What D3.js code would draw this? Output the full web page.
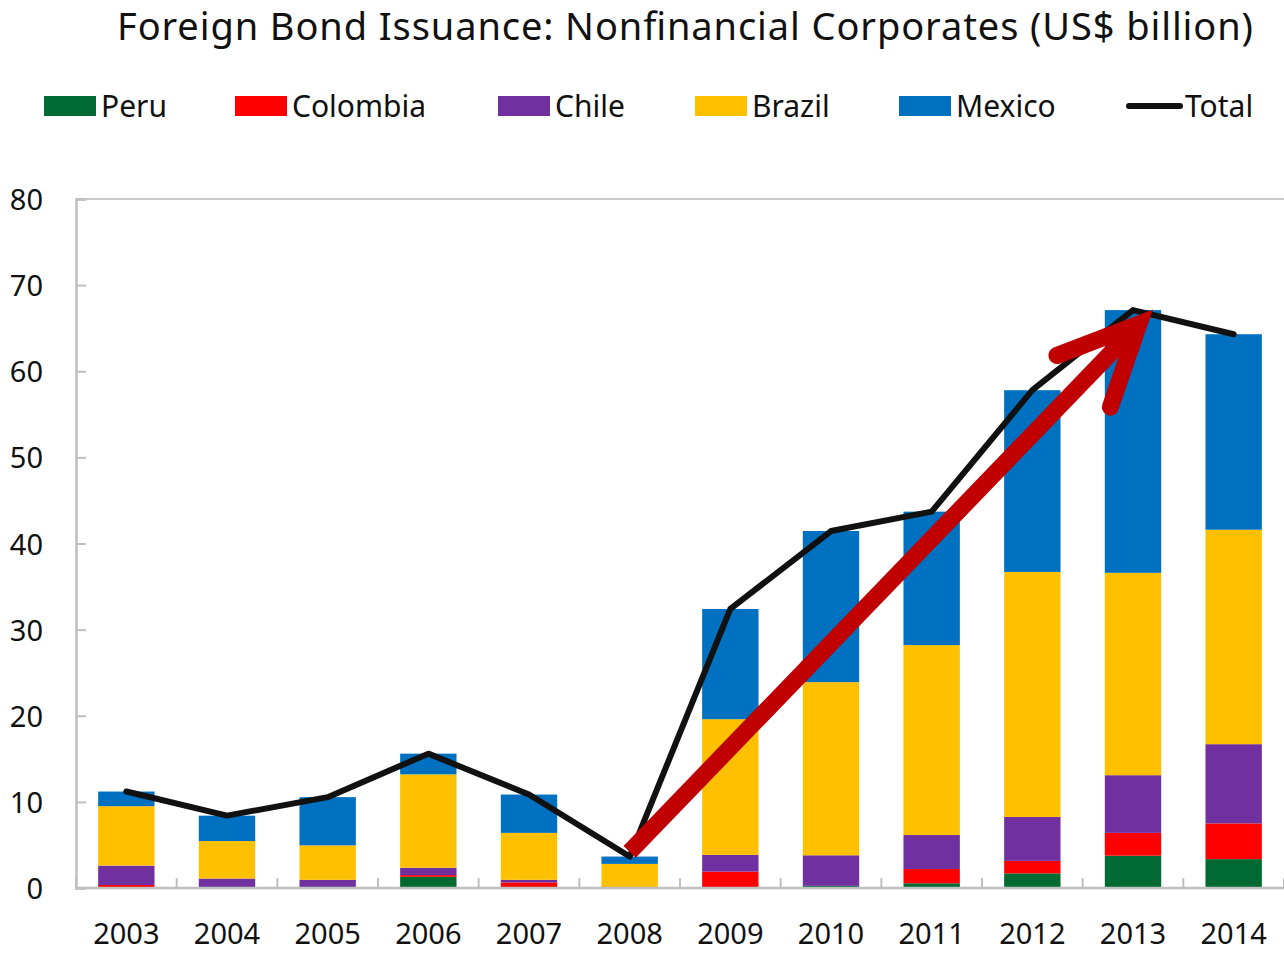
<!DOCTYPE html>
<html>
<head>
<meta charset="utf-8">
<script src="https://d3js.org/d3.v7.min.js"></script>
<style>
  body { margin: 0; background: #fff; }
  text { font-family: "Noto Sans", "Open Sans", sans-serif; fill: #111; }
</style>
</head>
<body>
<script>
// data (US$ billion)
var years    = ["2003","2004","2005","2006","2007","2008","2009","2010","2011","2012","2013","2014"];
var peru     = [0,    0,    0.1,  1.3,  0,    0,    0,    0.25, 0.55, 1.7,  3.75, 3.35];
var colombia = [0.35, 0.1,  0,    0.2,  0.65, 0,    1.9,  0,    1.65, 1.45, 2.65, 4.15];
var chile    = [2.25, 1.0,  0.85, 0.85, 0.3,  0,    1.95, 3.55, 3.95, 5.1,  6.7,  9.2];
var brazil   = [6.9,  4.35, 4.0,  10.85,5.45, 2.8,  15.75,20.1, 22.05,28.45,23.5, 24.9];
var mexico   = [1.7,  2.95, 5.6,  2.4,  4.45, 0.85, 12.8, 17.55,15.5, 21.1, 30.5, 22.7];
var yTicks   = [0,10,20,30,40,50,60,70,80];
var seriesNames = ["Peru","Colombia","Chile","Brazil","Mexico"];
var seriesColors = ["#006a32","#ff0000","#7030a0","#ffc000","#0070c0"];
// arrow annotation: from 2008 to 2013
var arrowFrom = ["2008", 4.2];
var arrowTo   = ["2013", 65.5];

var W = 1284, H = 953;
var svg = d3.select("body").append("svg").attr("width", W).attr("height", H);

var x = d3.scaleBand().domain(years).range([76, 1284]).paddingInner(0.44).paddingOuter(0.22);
var y = d3.scaleLinear().domain([0, 80]).range([888, 199]);

var table = years.map(function(yr, i) {
  return { year: yr, Peru: peru[i], Colombia: colombia[i], Chile: chile[i], Brazil: brazil[i], Mexico: mexico[i] };
});
var totals = table.map(function(d) {
  return { year: d.year, total: d.Peru + d.Colombia + d.Chile + d.Brazil + d.Mexico };
});
var stacked = d3.stack().keys(seriesNames)(table);

// title
svg.append("text").attr("x", 117).attr("y", 40)
  .attr("textLength", 1136).attr("lengthAdjust", "spacing")
  .style("font-size", "38px").text("Foreign Bond Issuance: Nonfinancial Corporates (US$ billion)");

// legend
var legendX = [44, 235, 498, 695, 899];
seriesNames.forEach(function(n, i) {
  svg.append("rect").attr("x", legendX[i]).attr("y", 96).attr("width", 52).attr("height", 20)
    .attr("fill", seriesColors[i]);
  svg.append("text").attr("x", legendX[i] + 57).attr("y", 117).style("font-size", "30px").text(n);
});
svg.append("line").attr("x1", 1129).attr("x2", 1180).attr("y1", 106).attr("y2", 106)
  .attr("stroke", "#111").attr("stroke-width", 6).attr("stroke-linecap", "round");
svg.append("text").attr("x", 1185).attr("y", 117).style("font-size", "30px").text("Total");

// plot frame: top line
svg.append("line").attr("x1", 76).attr("x2", 1284).attr("y1", y(80)).attr("y2", y(80))
  .attr("stroke", "#c8c8c8").attr("stroke-width", 2);

// bars
svg.append("g").selectAll("g").data(stacked).enter().append("g")
  .attr("fill", function(d, i) { return seriesColors[i]; })
  .selectAll("rect").data(function(d) { return d; }).enter().append("rect")
  .attr("x", function(d) { return x(d.data.year); })
  .attr("width", x.bandwidth())
  .attr("y", function(d) { return y(d[1]); })
  .attr("height", function(d) { return y(d[0]) - y(d[1]); });

// y axis
var yAxis = svg.append("g").attr("transform", "translate(76,0)")
  .call(d3.axisRight(y).tickValues(yTicks).tickSize(10).tickFormat(""));
yAxis.select(".domain").attr("stroke", "#bfbfbf").attr("stroke-width", 2.5);
yAxis.selectAll(".tick line").attr("stroke", "#bfbfbf").attr("stroke-width", 2);
svg.append("g").selectAll("text").data(yTicks).enter().append("text")
  .attr("x", 43).attr("y", function(d) { return y(d) + 11; })
  .attr("text-anchor", "end").style("font-size", "29px").text(function(d) { return d; });

// x axis with ticks between categories
var bounds = years.map(function(yr) { return x(yr) - x.step() * x.paddingInner() / 2; });
bounds.push(1284);
svg.append("line").attr("x1", 75).attr("x2", 1284).attr("y1", 888).attr("y2", 888)
  .attr("stroke", "#bfbfbf").attr("stroke-width", 2.5);
svg.append("g").selectAll("line").data(bounds).enter().append("line")
  .attr("x1", function(d) { return d; }).attr("x2", function(d) { return d; })
  .attr("y1", 888).attr("y2", 878).attr("stroke", "#bfbfbf").attr("stroke-width", 2);
svg.append("g").selectAll("text").data(years).enter().append("text")
  .attr("x", function(d) { return x(d) + x.bandwidth() / 2; }).attr("y", 944)
  .attr("text-anchor", "middle").style("font-size", "29px").text(function(d) { return d; });

// total line
var line = d3.line()
  .x(function(d) { return x(d.year) + x.bandwidth() / 2; })
  .y(function(d) { return y(d.total); });
svg.append("path").datum(totals).attr("d", line).attr("fill", "none")
  .attr("stroke", "#111").attr("stroke-width", 6)
  .attr("stroke-linejoin", "round").attr("stroke-linecap", "round");

// red arrow
var ax0 = x(arrowFrom[0]) + x.bandwidth() / 2, ay0 = y(arrowFrom[1]);
var ax1 = x(arrowTo[0]) + x.bandwidth() / 2 + 6, ay1 = y(arrowTo[1]);
var ang = Math.atan2(ay0 - ay1, ax0 - ax1);
var spread = 25 * Math.PI / 180, barb = 88;
var b1 = [ax1 + barb * Math.cos(ang - spread), ay1 + barb * Math.sin(ang - spread)];
var b2 = [ax1 + barb * Math.cos(ang + spread), ay1 + barb * Math.sin(ang + spread)];
var shaftEnd = [ax1 + 14 * Math.cos(ang), ay1 + 14 * Math.sin(ang)];
svg.append("line").attr("x1", ax0).attr("y1", ay0).attr("x2", shaftEnd[0]).attr("y2", shaftEnd[1])
  .attr("stroke", "#c00000").attr("stroke-width", 17);
svg.append("path")
  .attr("d", "M" + b1 + "L" + [ax1, ay1] + "L" + b2)
  .attr("fill", "none").attr("stroke", "#c00000").attr("stroke-width", 17)
  .attr("stroke-linecap", "round").attr("stroke-linejoin", "miter").attr("stroke-miterlimit", 10);
</script>
</body>
</html>
